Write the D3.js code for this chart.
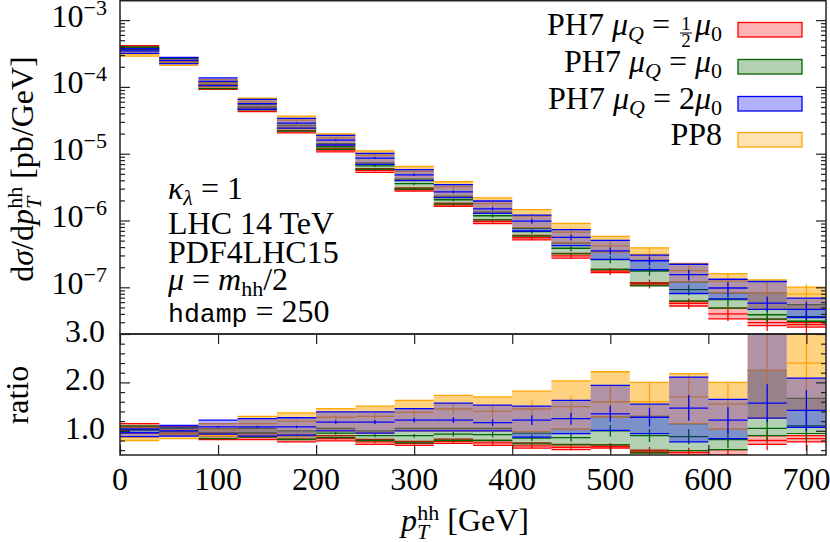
<!DOCTYPE html>
<html>

<head>
    <meta charset="utf-8" />
    <title>pT hh ratio</title>
    <style>
        body { margin: 0; background: #fff; }
        svg text { font-family: "Liberation Serif", "DejaVu Serif", serif; fill: #000; }
    </style>
</head>

<body>
    <svg width=830 height=542></svg>
</body>

<script src="https://cdn.jsdelivr.net/npm/d3@7"></script>
<script>
    // bins in p_T^hh [GeV]
    var binEdges = [0, 40, 80, 120, 160, 200, 240, 280, 320, 360, 400, 440, 480, 520, 560, 600, 640, 680, 720];
    var xTicks = [0, 100, 200, 300, 400, 500, 600, 700];
    var yTicksTop = [1e-7, 1e-6, 1e-5, 1e-4, 1e-3];
    var yTickExp = ['\u22127', '\u22126', '\u22125', '\u22124', '\u22123'];
    var ratioTicks = [1, 2, 3];
    var ratioTickLabels = ['1.0', '2.0', '3.0'];

    // reference cross section per bin [pb/GeV] (ratio denominator)
    var refValues = [3.6e-4, 2.5e-4, 1.12e-4, 5.2e-5, 2.66e-5, 1.35e-5, 7.3e-6, 3.95e-6, 2.2e-6, 1.28e-6,
        8.0e-7, 4.47e-7, 2.6e-7, 1.95e-7, 1.05e-7, 8.0e-8, 3.7e-8, 3.3e-8];

    // ratios to the reference : band low / band high / central
    var redLo = [1.02, 0.95, 0.82, 0.82, 0.77, 0.79, 0.72, 0.70, 0.74, 0.70, 0.64, 0.61, 0.64, 0.55, 0.50, 0.42, 0.72, 0.77];
    var redHi = [1.15, 1.08, 0.96, 0.95, 0.90, 0.90, 0.82, 0.78, 0.83, 0.80, 0.75, 0.72, 0.71, 0.60, 0.59, 0.61, 0.90, 0.90];
    var redMid = [1.08, 1.02, 0.90, 0.88, 0.83, 0.84, 0.77, 0.74, 0.78, 0.75, 0.69, 0.66, 0.67, 0.58, 0.55, 0.50, 0.80, 0.84];

    var greenLo = [0.95, 0.92, 0.84, 0.87, 0.82, 0.86, 0.80, 0.75, 0.80, 0.80, 0.73, 0.71, 0.71, 0.54, 0.59, 0.61, 0.90, 0.94];
    var greenHi = [1.10, 1.06, 1.04, 1.05, 1.00, 1.05, 1.00, 1.05, 1.05, 1.05, 0.95, 1.03, 1.28, 1.30, 1.15, 1.03, 2.25, 1.67];
    var greenMid = [1.02, 0.99, 0.95, 0.96, 0.92, 0.95, 0.90, 0.90, 0.93, 0.92, 0.85, 0.86, 1.00, 0.90, 0.88, 0.82, 1.05, 1.10];

    var blueLo = [0.88, 0.89, 0.93, 0.89, 0.91, 1.00, 0.95, 1.00, 1.00, 1.00, 0.87, 0.94, 1.01, 0.94, 0.77, 0.84, 1.26, 1.07];
    var blueHi = [1.04, 1.11, 1.22, 1.25, 1.27, 1.39, 1.39, 1.46, 1.57, 1.53, 1.51, 1.63, 1.94, 1.55, 2.11, 1.65, 3.30, 2.09];
    var blueMid = [0.96, 1.00, 1.08, 1.08, 1.08, 1.18, 1.18, 1.22, 1.22, 1.17, 1.22, 1.25, 1.35, 1.28, 1.47, 1.22, 1.57, 1.42];

    var pp8Lo = [0.80, 0.84, 0.90, 0.90, 0.92, 1.00, 0.95, 1.00, 1.00, 1.00, 0.98, 1.03, 1.28, 1.30, 1.15, 1.03, 1.26, 1.42];
    var pp8Hi = [0.95, 1.02, 1.15, 1.30, 1.37, 1.46, 1.51, 1.63, 1.73, 1.70, 1.82, 2.03, 2.22, 2.00, 2.18, 2.00, 3.50, 3.05];
    var pp8Mid = [0.87, 0.93, 1.02, 1.15, 1.20, 1.28, 1.30, 1.38, 1.45, 1.40, 1.45, 1.50, 1.60, 1.60, 1.70, 1.55, 2.25, 2.40];

    // relative statistical errors
    var ph7Err = [0.01, 0.01, 0.015, 0.02, 0.025, 0.03, 0.035, 0.04, 0.05, 0.06, 0.08, 0.1, 0.12, 0.15, 0.18, 0.22, 0.25, 0.3];
    var pp8Err = [0.01, 0.015, 0.02, 0.025, 0.03, 0.04, 0.05, 0.06, 0.08, 0.1, 0.12, 0.15, 0.21, 0.25, 0.28, 0.3, 0.45, 0.4];

    var red = { color: '#ff0000', op: 0.3, lo: redLo, hi: redHi, mid: redMid, err: ph7Err };
    var green = { color: '#006400', op: 0.3, lo: greenLo, hi: greenHi, mid: greenMid, err: ph7Err };
    var blue = { color: '#0000ff', op: 0.3, lo: blueLo, hi: blueHi, mid: blueMid, err: ph7Err };
    var pp8 = { color: '#ffa500', op: 0.5, lo: pp8Lo, hi: pp8Hi, mid: pp8Mid, err: pp8Err };
    var drawOrder = [red, green, pp8, blue];

    var left = 120, right = 826, plotTop = 0, mid = 334, bottom = 455;
    var ink = '#222';
    var svg = d3.select('svg');

    var x = d3.scaleLinear().domain([0, 720]).range([left, right]);
    var yTop = d3.scaleLog().domain([2e-8, 2e-3]).range([mid, plotTop]);
    var yRat = d3.scaleLinear().domain([0.5, 3.0]).range([bottom, mid]);

    var defs = svg.append('defs');
    defs.append('clipPath').attr('id', 'clipTop').append('rect')
        .attr('x', left).attr('y', plotTop).attr('width', right - left).attr('height', mid - plotTop);
    defs.append('clipPath').attr('id', 'clipRat').append('rect')
        .attr('x', left).attr('y', mid).attr('width', right - left).attr('height', bottom - mid);

    // mixed roman / italic / sub / sup text
    function rich(sel, parts) {
        var prev = 0;
        parts.forEach(function (p) {
            var ts = sel.append('tspan').text(p.t);
            var off = p.off || 0;
            if (off !== prev) ts.attr('dy', off - prev);
            if (p.dx) ts.attr('dx', p.dx);
            if (p.size) ts.attr('font-size', p.size);
            if (p.it) ts.attr('font-style', 'italic');
            if (p.tt) ts.attr('font-family', '"Liberation Mono", monospace');
            prev = off;
        });
        return sel;
    }

    function drawBands(g, yScale, factor) {
        drawOrder.forEach(function (s) {
            var rows = binEdges.slice(0, -1).map(function (e, i) {
                var k = factor ? factor[i] : 1;
                return {
                    x0: e, x1: binEdges[i + 1],
                    lo: s.lo[i] * k, hi: s.hi[i] * k, c: s.mid[i] * k,
                    e: s.mid[i] * k * s.err[i]
                };
            });
            var gs = g.append('g');
            gs.selectAll('rect').data(rows).enter().append('rect')
                .attr('x', function (d) { return x(d.x0); })
                .attr('width', function (d) { return x(d.x1) - x(d.x0); })
                .attr('y', function (d) { return yScale(d.hi); })
                .attr('height', function (d) { return yScale(d.lo) - yScale(d.hi); })
                .attr('fill', s.color)
                .attr('fill-opacity', s.op);
            ['lo', 'hi', 'c'].forEach(function (key) {
                gs.selectAll('line.' + key).data(rows).enter().append('line')
                    .attr('class', key)
                    .attr('x1', function (d) { return x(d.x0); })
                    .attr('x2', function (d) { return x(d.x1); })
                    .attr('y1', function (d) { return yScale(d[key]); })
                    .attr('y2', function (d) { return yScale(d[key]); })
                    .attr('stroke', s.color)
                    .attr('stroke-width', 1.3);
            });
            gs.selectAll('line.err').data(rows).enter().append('line')
                .attr('class', 'err')
                .attr('x1', function (d) { return x((d.x0 + d.x1) / 2); })
                .attr('x2', function (d) { return x((d.x0 + d.x1) / 2); })
                .attr('y1', function (d) { return yScale(d.c - d.e); })
                .attr('y2', function (d) { return yScale(d.c + d.e); })
                .attr('stroke', s.color)
                .attr('stroke-width', 1.3);
        });
    }

    drawBands(svg.append('g').attr('clip-path', 'url(#clipTop)'), yTop, refValues);
    drawBands(svg.append('g').attr('clip-path', 'url(#clipRat)'), yRat, null);

    // ticks, inside and mirrored
    function ticks(axis, tx, ty, len) {
        var g = svg.append('g').attr('transform', 'translate(' + tx + ',' + ty + ')')
            .style('color', ink)
            .call(axis.tickSize(-len).tickFormat(''));
        g.select('.domain').remove();
        g.selectAll('line').attr('stroke-width', 1.2);
    }

    var topMinor = [];
    [-8, -7, -6, -5, -4, -3].forEach(function (p) {
        [2, 3, 4, 5, 6, 7, 8, 9].forEach(function (m) {
            var v = m * Math.pow(10, p);
            if (v > 2.01e-8 && v < 1.99e-3) topMinor.push(v);
        });
    });
    var ratMinor = yRat.ticks(12).filter(function (v) { return Math.abs(v - Math.round(v)) > 1e-6; });

    ticks(d3.axisLeft(yTop).tickValues(yTicksTop), left, 0, 10);
    ticks(d3.axisRight(yTop).tickValues(yTicksTop), right, 0, 10);
    ticks(d3.axisLeft(yTop).tickValues(topMinor), left, 0, 5);
    ticks(d3.axisRight(yTop).tickValues(topMinor), right, 0, 5);
    ticks(d3.axisLeft(yRat).tickValues(ratioTicks), left, 0, 10);
    ticks(d3.axisRight(yRat).tickValues(ratioTicks), right, 0, 10);
    ticks(d3.axisLeft(yRat).tickValues(ratMinor), left, 0, 5);
    ticks(d3.axisRight(yRat).tickValues(ratMinor), right, 0, 5);
    ticks(d3.axisBottom(x).tickValues(xTicks), 0, bottom, 10);
    ticks(d3.axisTop(x).tickValues(xTicks), 0, mid, 10);

    // frames
    svg.append('rect').attr('x', left).attr('y', 0.75).attr('width', right - left).attr('height', mid - 0.75)
        .attr('fill', 'none').attr('stroke', ink).attr('stroke-width', 1.5);
    svg.append('rect').attr('x', left).attr('y', mid).attr('width', right - left).attr('height', bottom - mid)
        .attr('fill', 'none').attr('stroke', ink).attr('stroke-width', 1.5);

    // tick labels
    yTicksTop.forEach(function (v, i) {
        rich(svg.append('text').attr('x', 107).attr('y', yTop(v) + 6.5)
            .attr('text-anchor', 'end').attr('font-size', 32),
            [{ t: '10' }, { t: yTickExp[i], size: 22, off: -12 }]);
    });
    svg.selectAll('text.rt').data(ratioTicks).enter().append('text')
        .attr('class', 'rt')
        .attr('x', 105).attr('y', function (d) { return yRat(d) + 8; })
        .attr('text-anchor', 'end').attr('font-size', 32)
        .text(function (d, i) { return ratioTickLabels[i]; });
    svg.selectAll('text.xt').data(xTicks).enter().append('text')
        .attr('class', 'xt')
        .attr('x', function (d) { return x(d); }).attr('y', 490)
        .attr('text-anchor', 'middle').attr('font-size', 32)
        .text(function (d) { return d; });

    // axis titles
    rich(svg.append('text').attr('x', 465).attr('y', 531).attr('text-anchor', 'middle').attr('font-size', 32),
        [{ t: 'p', it: true }, { t: 'T', it: true, size: 22, off: 8 },
        { t: 'hh', size: 22, off: -11, dx: -12 }, { t: ' [GeV]' }]);
    rich(svg.append('text').attr('transform', 'translate(33,169) rotate(-90)')
        .attr('text-anchor', 'middle').attr('font-size', 32),
        [{ t: 'd' }, { t: '\u03c3', it: true }, { t: '/d' }, { t: 'p', it: true },
        { t: 'T', it: true, size: 22, off: 8 }, { t: 'hh', size: 22, off: -11, dx: -12 },
        { t: ' [pb/GeV]' }]);
    svg.append('text').attr('transform', 'translate(28,395) rotate(-90)')
        .attr('text-anchor', 'middle').attr('font-size', 32).text('ratio');

    // legend
    var legendRows = [red, green, blue, pp8];
    var legendY = [35, 72, 109, 145];
    var legX = 722;
    legendRows.forEach(function (s, i) {
        svg.append('rect').attr('x', 738).attr('y', legendY[i] - 12.5).attr('width', 64).attr('height', 14.5)
            .attr('fill', s.color).attr('fill-opacity', 0.3)
            .attr('stroke', s.color).attr('stroke-width', 1.3);
    });
    var muQ = [{ t: 'PH7 ' }, { t: '\u03bc', it: true }, { t: 'Q', it: true, size: 22, off: 6 }, { t: ' = ' }];
    var mu0 = [{ t: '\u03bc', it: true }, { t: '0', size: 22, off: 6 }];
    // row 1 : fraction 1/2
    var r1 = rich(svg.append('text').attr('x', legX).attr('y', legendY[0]).attr('text-anchor', 'end').attr('font-size', 32), mu0);
    var fx = legX - r1.node().getComputedTextLength() - 9;
    svg.append('text').attr('x', fx).attr('y', legendY[0] - 5).attr('text-anchor', 'middle').attr('font-size', 19).text('1');
    svg.append('line').attr('x1', fx - 6).attr('x2', fx + 6).attr('y1', legendY[0] - 2).attr('y2', legendY[0] - 2)
        .attr('stroke', '#000').attr('stroke-width', 1);
    svg.append('text').attr('x', fx).attr('y', legendY[0] + 12).attr('text-anchor', 'middle').attr('font-size', 19).text('2');
    rich(svg.append('text').attr('x', fx - 16).attr('y', legendY[0]).attr('text-anchor', 'end').attr('font-size', 32),
        muQ.slice(0, 3).concat([{ t: ' =' }]));
    rich(svg.append('text').attr('x', legX).attr('y', legendY[1]).attr('text-anchor', 'end').attr('font-size', 32),
        muQ.concat(mu0));
    rich(svg.append('text').attr('x', legX).attr('y', legendY[2]).attr('text-anchor', 'end').attr('font-size', 32),
        muQ.slice(0, 3).concat([{ t: ' = 2' }], mu0));
    svg.append('text').attr('x', legX).attr('y', legendY[3]).attr('text-anchor', 'end').attr('font-size', 32).text('PP8');

    // run info
    var info = svg.append('g').attr('font-size', 32);
    rich(info.append('text').attr('x', 168).attr('y', 199),
        [{ t: '\u03ba', it: true }, { t: '\u03bb', it: true, size: 22, off: 6 }, { t: ' = 1' }]);
    info.append('text').attr('x', 168).attr('y', 234).text('LHC 14 TeV');
    info.append('text').attr('x', 168).attr('y', 263).text('PDF4LHC15');
    rich(info.append('text').attr('x', 168).attr('y', 290),
        [{ t: '\u03bc', it: true }, { t: ' = ' }, { t: 'm', it: true }, { t: 'hh', size: 22, off: 6 }, { t: '/2' }]);
    rich(info.append('text').attr('x', 168).attr('y', 322),
        [{ t: 'hdamp', tt: true, size: 26.5 }, { t: ' = 250' }]);
</script>

</html>
